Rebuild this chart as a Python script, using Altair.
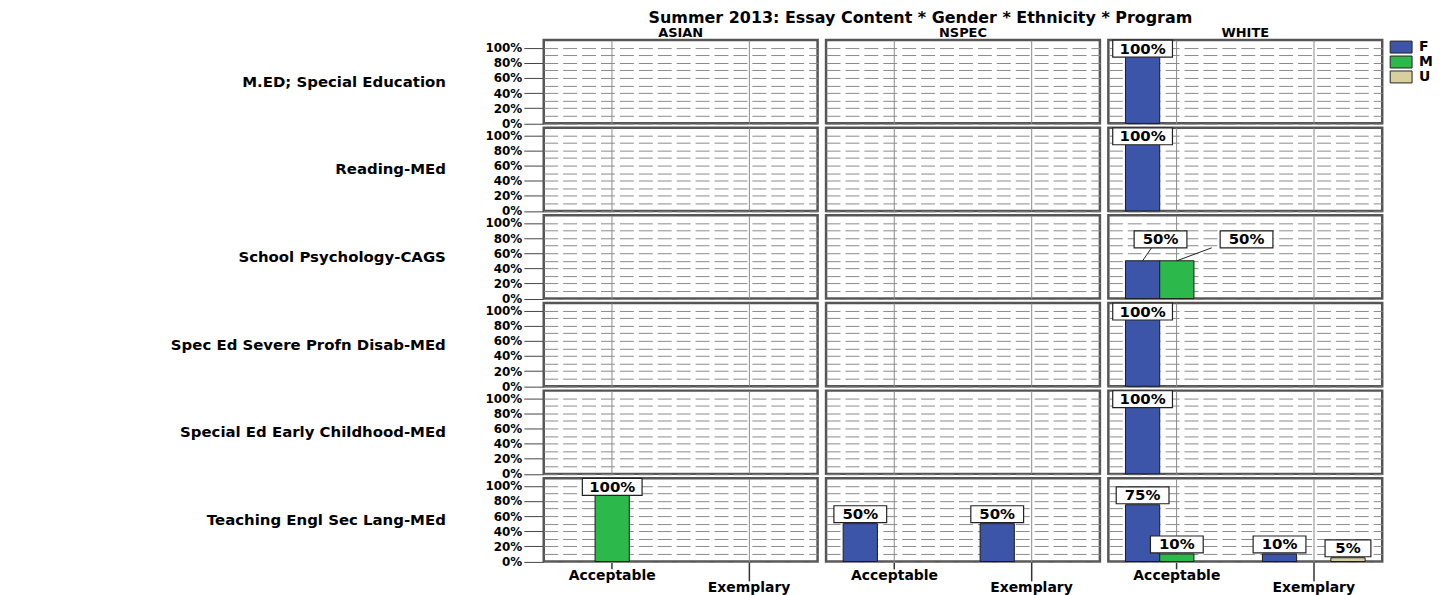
import altair as alt
import pandas as pd

title_text = "Summer 2013: Essay Content * Gender * Ethnicity * Program"
programs = ["M.ED; Special Education", "Reading-MEd", "School Psychology-CAGS",
            "Spec Ed Severe Profn Disab-MEd", "Special Ed Early Childhood-MEd",
            "Teaching Engl Sec Lang-MEd"]
ethnicities = ["ASIAN", "NSPEC", "WHITE"]
contents = ["Acceptable", "Exemplary"]
genders = ["F", "M", "U"]
gender_colors = ["#3D55A8", "#2DB84B", "#D8D09C"]

bar_program = ["M.ED; Special Education", "Reading-MEd", "School Psychology-CAGS",
               "School Psychology-CAGS", "Spec Ed Severe Profn Disab-MEd",
               "Special Ed Early Childhood-MEd",
               "Teaching Engl Sec Lang-MEd", "Teaching Engl Sec Lang-MEd",
               "Teaching Engl Sec Lang-MEd", "Teaching Engl Sec Lang-MEd",
               "Teaching Engl Sec Lang-MEd", "Teaching Engl Sec Lang-MEd",
               "Teaching Engl Sec Lang-MEd"]
bar_ethnicity = ["WHITE", "WHITE", "WHITE", "WHITE", "WHITE", "WHITE",
                 "ASIAN", "NSPEC", "NSPEC", "WHITE", "WHITE", "WHITE", "WHITE"]
bar_content = ["Acceptable", "Acceptable", "Acceptable", "Acceptable", "Acceptable",
               "Acceptable", "Acceptable", "Acceptable", "Exemplary", "Acceptable",
               "Acceptable", "Exemplary", "Exemplary"]
bar_gender = ["F", "F", "F", "M", "F", "F", "M", "F", "F", "F", "M", "F", "U"]
bar_percent = [100, 100, 50, 50, 100, 100, 100, 50, 50, 75, 10, 10, 5]
# label placement nudges (px) for labels that would collide
label_dx = [0, 0, 18, 70, 0, 0, 0, 0, 0, 0, 0, 0, 0]
label_dy = [0, 0, -12, -12, 0, 0, 0, 0, 0, 0, 0, 0, 0]

y_ticks = [0, 10, 20, 30, 40, 50, 60, 70, 80, 90, 100]

PANEL_W = 275
PANEL_H = 83.6
# width of one gender slot inside a content band (band split into 3 bars + half-slot margins)
SLOT = PANEL_W / len(contents) / (len(genders) + 1)

bars_df = pd.DataFrame({
    "program": bar_program,
    "ethnicity": bar_ethnicity,
    "content": bar_content,
    "gender": bar_gender,
    "percent": bar_percent,
    "ldx": label_dx,
    "ldy": label_dy,
})
bars_df["label"] = bars_df["percent"].astype(str) + "%"
bars_df["nchar"] = bars_df["label"].str.len()

# one empty placeholder row for every facet cell so that the full grid is drawn
cells = pd.DataFrame(
    [(p, e) for p in programs for e in ethnicities], columns=["program", "ethnicity"]
)
cells["content"] = "Acceptable"
cells["gender"] = "F"
cells["percent"] = 0
cells["ldx"] = 0
cells["ldy"] = 0
cells["label"] = ""
cells["nchar"] = 0
df = pd.concat([bars_df, cells], ignore_index=True)

FONT = "DejaVu Sans"

x_enc = alt.X(
    "content:N",
    scale=alt.Scale(domain=contents, paddingInner=0, paddingOuter=0),
    title=None,
    axis=alt.Axis(
        labelAngle=0, domain=False, grid=True, bandPosition=0.5,
        gridColor="#8a8a8a", gridWidth=1, ticks=True, tickColor="#333",
        tickSize={"condition": {"test": "datum.value == 'Exemplary'", "value": 19}, "value": 7},
        tickWidth=1.5,
        labelPadding=0,
        labelBaseline="top",
        labelFont=FONT, labelFontSize=14, labelFontWeight="bold", labelColor="black",
    ),
)
xo_enc = alt.XOffset("gender:N", scale=alt.Scale(domain=genders, paddingInner=0, paddingOuter=0.5))
y_enc = alt.Y(
    "percent:Q",
    scale=alt.Scale(domain=[0, 110], nice=False),
    title=None,
    axis=alt.Axis(
        values=y_ticks, domain=False, grid=True, gridColor="#8a8a8a", gridWidth=1,
        gridDash=[14, 5],
        tickSize=20, tickColor="#444", tickWidth=1,
        tickOpacity={"condition": {"test": "datum.value % 20 != 0", "value": 0}, "value": 1},
        labelExpr="datum.value % 20 == 0 ? datum.value + '%' : ''",
        labelPadding=2, labelFont=FONT, labelFontSize=12, labelFontWeight="bold",
        labelColor="black",
    ),
)

base = alt.Chart().transform_filter("datum.percent > 0")

bars = base.mark_bar(stroke="#1a1a1a", strokeWidth=1).encode(
    x=x_enc, xOffset=xo_enc, y=y_enc,
    color=alt.Color(
        "gender:N",
        scale=alt.Scale(domain=genders, range=gender_colors),
        legend=alt.Legend(
            title=None, orient="right", offset=10,
            symbolType="M-1.83,-1H1.83V1H-1.83Z", symbolSize=144,
            symbolStrokeColor="#222", symbolStrokeWidth=1, symbolOpacity=1,
            labelFont=FONT, labelFontSize=14, labelFontWeight="bold", labelColor="black",
            rowPadding=-3, labelOffset=11, padding=0,
        ),
    ),
)

slot_expr = "(indexof(%s, datum.gender) - 1) * %.4f" % (str(genders).replace(" ", ""), SLOT)

# leader lines from bar top to a nudged label
leaders = (
    alt.Chart()
    .transform_filter("datum.percent > 0 && datum.ldy != 0")
    .transform_calculate(pt="[0, 1]")
    .transform_flatten(["pt"])
    .transform_calculate(
        lx=slot_expr + " + datum.pt * datum.ldx / 2",
        ly="datum.pt * (datum.ldy - 1)",
    )
    .mark_line(color="#222", strokeWidth=1,
               xOffset={"expr": "datum.lx"}, yOffset={"expr": "datum.ly"})
    .encode(x=x_enc, y=y_enc, detail="gender:N", order="pt:Q")
)


def label_layers(test, offset):
    src = (
        alt.Chart()
        .transform_filter("datum.percent > 0")
        .transform_filter(test)
        .transform_calculate(lx=slot_expr + " + datum.ldx", ly="datum.ldy + (%s)" % offset)
    )
    box = src.mark_tick(
        color="white", fill="white", stroke="#222", strokeWidth=1.2, opacity=1,
        thickness=17,
        xOffset={"expr": "datum.lx"}, yOffset={"expr": "datum.ly"},
    ).encode(
        x=x_enc, y=y_enc,
        size=alt.Size("nchar:O", scale=alt.Scale(domain=[2, 3, 4], range=[46, 60, 68]), legend=None),
    )
    txt = src.mark_text(
        font=FONT, fontSize=15, fontWeight="bold", color="black", baseline="middle",
        xOffset={"expr": "datum.lx"}, yOffset={"expr": "datum.ly"},
    ).encode(x=x_enc, y=y_enc, text="label:N")
    return [box, txt]


# labels sit just above their bar; full-height bars keep their label inside the panel
layers = ([bars, leaders] + label_layers("datum.percent < 100", -9.5)
          + label_layers("datum.percent >= 100", 1))

chart = alt.layer(*layers, data=df).properties(
    width=PANEL_W, height=PANEL_H
).facet(
    row=alt.Row(
        "program:N", sort=programs, title=None,
        header=alt.Header(
            labelAngle=0, labelAlign="left", labelOrient="left",
            labelFont=FONT, labelFontSize=15, labelFontWeight="bold", labelColor="black",
            labelPadding=39,
        ),
    ),
    column=alt.Column(
        "ethnicity:N", sort=ethnicities, title=None,
        header=alt.Header(
            labelFont=FONT, labelFontSize=13, labelFontWeight="bold", labelColor="black",
            labelPadding=0,
        ),
    ),
    spacing={"row": 4, "column": 8.5},
    bounds="flush",
).properties(
    title=alt.TitleParams(
        title_text, font=FONT, fontSize=16, fontWeight="bold", color="black",
        anchor="middle", offset=1, dx=119,
    ),
    padding={"left": 163, "top": 1, "right": 0, "bottom": 0},
).configure_view(
    stroke="#555", strokeWidth=2.5,
)

chart.save("out.html", embed_options={"renderer": "svg", "actions": False})
